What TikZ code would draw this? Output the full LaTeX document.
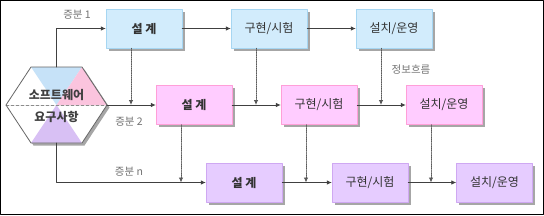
\documentclass[tikz,border=0pt]{standalone}
\usepackage{fontspec}
\setmainfont{Noto Sans CJK KR}
\usepackage{tikz}
\usetikzlibrary{calc}
\usetikzlibrary{arrows.meta,shadows}
\definecolor{blfill}{HTML}{D2ECFC}
\definecolor{bldraw}{HTML}{A6D6F2}
\definecolor{pkfill}{HTML}{FFCCFF}
\definecolor{pkdraw}{HTML}{FF9FD8}
\definecolor{ppfill}{HTML}{E6CCFF}
\definecolor{ppdraw}{HTML}{CFA8F2}
\definecolor{hxpink}{HTML}{FBC4DE}
\definecolor{hxpurp}{HTML}{D8C0F4}
\definecolor{hxblue}{HTML}{C6E2F8}
\newcommand{\stg}[1]{\fontsize{12}{14}\selectfont #1}

\begin{document}
\begin{tikzpicture}[x=1pt,y=-1pt,>={Latex[length=5pt,width=4.5pt]},line cap=round,line join=round,
  box/.style={draw, minimum width=76pt, minimum height=39pt, inner sep=0pt, text=black!80,
    drop shadow={shadow xshift=2.5pt, shadow yshift=-2.5pt, fill=black!35, opacity=1}},
  row1/.style={box, fill=blfill, draw=bldraw},
  row2/.style={box, fill=pkfill, draw=pkdraw},
  row3/.style={box, fill=ppfill, draw=ppdraw},
  flow/.style={draw=black!75, line width=0.8pt, ->},
  info/.style={draw=black!65, line width=0.8pt, densely dotted, ->},
  lbl/.style={text=black!55, font=\fontsize{10.5}{12}\selectfont}]
  \useasboundingbox (0,0) rectangle (544,215);
  \draw[line width=1.3pt] (0.8,0.8) rectangle (543.2,214.2);

  % hexagon
  \coordinate (hc) at (56.5,105);
  \coordinate (ht) at (56.5,67);
  \coordinate (hb) at (56.5,143);
  \coordinate (hr) at (107,105);
  \coordinate (hl) at (6,105);
  \fill[black!35] ($(hl)+(2.5,2.5)$) -- ($(31,67)+(2.5,2.5)$) -- ($(82,67)+(2.5,2.5)$)
    -- ($(hr)+(2.5,2.5)$) -- ($(82,143)+(2.5,2.5)$) -- ($(31,143)+(2.5,2.5)$) -- cycle;
  \fill[white] (hl) -- (31,67) -- (82,67) -- (hr) -- (82,143) -- (31,143) -- cycle;
  \fill[hxblue] (31,67) -- (82,67) -- (hc) -- cycle;
  \fill[hxpink] (82,67) -- (hr) -- (hc) -- cycle;
  \fill[hxpurp] (31,143) -- (82,143) -- (hc) -- cycle;
  \draw[black!45, densely dashed, line width=0.6pt] (hl) -- (hr);
  \draw[black!60, line width=0.8pt] (hl) -- (31,67) -- (82,67) -- (hr) -- (82,143) -- (31,143) -- cycle;
  \node[text=black!75] (sw) at (56.5,95) {\stg{\bfseries 소프트웨어}};
  \node[text=black!75] (rq) at (56.5,117) {\stg{\bfseries 요구사항}};

  % boxes
  \node[row1] (d1) at (144,28.5) {\stg{\bfseries 설 계}};
  \node[row1] (i1) at (269,28.5) {\stg{구현/시험}};
  \node[row1] (o1) at (394,28.5) {\stg{설치/운영}};
  \node[row2] (d2) at (194,105) {\stg{\bfseries 설 계}};
  \node[row2] (i2) at (319,105) {\stg{구현/시험}};
  \node[row2] (o2) at (444,105) {\stg{설치/운영}};
  \node[row3] (d3) at (244,182.5) {\stg{\bfseries 설 계}};
  \node[row3] (i3) at (370,182.5) {\stg{구현/시험}};
  \node[row3] (o3) at (494.5,182.5) {\stg{설치/운영}};

  % increments
  \draw[flow] (ht) |- (d1.west);
  \draw[flow] (hr) -- (d2.west);
  \draw[flow] (hb) |- (d3.west);
  \node[lbl] (n1) at (77,15) {증분 1};
  \node[lbl] (n2) at (129,122) {증분 2};
  \node[lbl] (n3) at (129,172) {증분 n};

  % rows
  \draw[flow] (d1) -- (i1);
  \draw[flow] (i1) -- (o1);
  \draw[flow] (d2) -- (i2);
  \draw[flow] (i2) -- (o2);
  \draw[flow] (d3) -- (i3);
  \draw[flow] (i3) -- (o3);

  % information flow
  \draw[info] ([xshift=-13pt]d1.south) -- ([xshift=-13pt]d1.south |- d2.west);
  \draw[info] ([xshift=-13pt]i1.south) -- ([xshift=-13pt]i1.south |- i2.west);
  \draw[info] ([xshift=-13pt]o1.south) -- ([xshift=-13pt]o1.south |- o2.west);
  \draw[info] ([xshift=-13pt]d2.south) -- ([xshift=-13pt]d2.south |- d3.west);
  \draw[info] ([xshift=-13pt]i2.south) -- ([xshift=-13pt]i2.south |- i3.west);
  \draw[info] ([xshift=-13pt]o2.south) -- ([xshift=-13pt]o2.south |- o3.west);
  \node[lbl] (nf) at (411,70) {정보흐름};
\end{tikzpicture}
\end{document}
